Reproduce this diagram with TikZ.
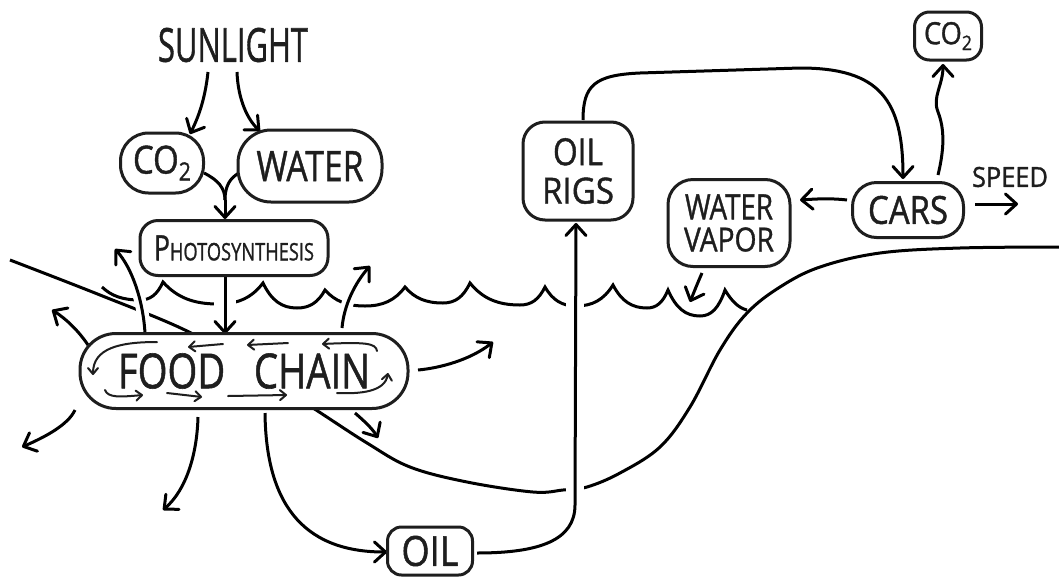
\documentclass[tikz,border=0pt]{standalone}
\usepackage{fontspec}
\setmainfont{Open Sans}[FakeBold=1.2]
\usepackage{graphicx}
\usetikzlibrary{arrows.meta,calc,backgrounds}
\definecolor{ink}{HTML}{1E1E1E}
\newcommand{\wdn}[4]{.. controls ({#1+0.25*(#3-#1)},{#2+0.7*(#4-#2)}) and ({#3-0.45*(#3-#1)},#4) .. (#3,#4)}
\newcommand{\wup}[4]{.. controls ({#1+0.45*(#3-#1)},#2) and ({#3-0.25*(#3-#1)},{#4+0.7*(#2-#4)}) .. (#3,#4)}
\tikzset{
  ln/.style={line width=3pt},
  arr/.style={line width=3pt, -{Straight Barb[length=11pt,width=20pt,round]}},
  tarr/.style={line width=2pt, -{Straight Barb[length=6pt,width=10pt,round]}},
  box/.style={draw, fill=white, line width=3pt, inner sep=0pt, align=center, font=\fontsize{10}{2}\selectfont},
  lbl/.style={inner sep=0pt},
  gap/.style={white, line width=12pt, line cap=butt}
}
\begin{document}
\begin{tikzpicture}[x=1pt,y=-1pt,color=ink,line cap=round,line join=round]
\useasboundingbox (0,0) rectangle (1059,576);
% nodes
\node[lbl] (sun) at (233,45) {\resizebox{150pt}{34pt}{SUNLIGHT}};
\node[box, rounded corners=28pt, minimum width=83pt, minimum height=60pt] (co2a) at (162,163)
  {\resizebox*{58pt}{35pt}{CO\raisebox{-0.18em}{\scalebox{0.65}{2}}}};
\node[box, rounded corners=33pt, minimum width=144pt, minimum height=72pt] (water) at (310,166)
  {\resizebox{107pt}{30pt}{WATER}};
\node[box, rounded corners=18pt, minimum width=188pt, minimum height=55pt] (photo) at (234,248)
  {\resizebox{160pt}{25pt}{{\fontsize{14.5}{14.5}\selectfont P}HOTOSYNTHESIS}};
\node[box, rounded corners=36pt, minimum width=328pt, minimum height=75pt] (food) at (244,371)
  {\resizebox{252pt}{35pt}{FOOD\hspace{0.75em}CHAIN}};
\node[box, rounded corners=14pt, minimum width=85pt, minimum height=48pt] (oil) at (430,551)
  {\resizebox{57pt}{30pt}{OIL}};
\node[box, rounded corners=22pt, minimum width=110pt, minimum height=98pt] (rigs) at (578,171)
  {\resizebox{50pt}{27pt}{OIL}\\[11pt]\resizebox{72pt}{26pt}{RIGS}};
\node[box, rounded corners=25pt, minimum width=122pt, minimum height=87pt] (vapor) at (729,223)
  {\resizebox{88pt}{25pt}{WATER}\\[7pt]\resizebox{90pt}{24pt}{VAPOR}};
\node[box, rounded corners=24pt, minimum width=111pt, minimum height=55pt] (cars) at (908,210)
  {\resizebox{80pt}{28pt}{CARS}};
\node[box, rounded corners=15pt, minimum width=67pt, minimum height=48pt] (co2b) at (948,36)
  {\resizebox*{48pt}{28pt}{CO\raisebox{-0.19em}{\scalebox{0.65}{2}}}};
\node[lbl] (speed) at (1010,177) {\resizebox{76pt}{20pt}{SPEED}};

\begin{scope}[on background layer]
\fill[white] (0,0) rectangle (1059,576);
% sea bed and land
\draw[ln] plot[smooth, tension=0.6] coordinates {(10,260) (100,295) (187,331) (250,368) (313,408) (367,443) (410,467) (467,482) (533,492) (563,490) (587,487) (620,473) (660,447) (690,407) (720,350) (747,313) (780,287) (820,267) (880,253) (960,248) (1059,247)};
% waves
\draw[ln] (102,287) \wdn{102}{287}{140}{300} \wup{140}{300}{163}{282} \wdn{163}{282}{218}{304} \wup{218}{304}{263}{283} \wdn{263}{283}{297}{308} \wup{297}{308}{325}{290} \wdn{325}{290}{365}{306} \wup{365}{306}{405}{287} \wdn{405}{287}{443}{303} \wup{443}{303}{470}{283} \wdn{470}{283}{520}{305} \wup{520}{305}{545}{287} \wdn{545}{287}{576}{306} \wup{576}{306}{613}{285} \wdn{613}{285}{647}{308} \wup{647}{308}{668}{290} \wdn{668}{290}{700}{316} \wup{700}{316}{725}{290} .. controls (731,300) and (738,308) .. (747,310);
% gaps where lines cross
\draw[gap, line width=22pt] (225,280) -- (225,325);
\draw[gap, line width=18pt] (575,278) -- (575,505);
% connectors
\draw[arr] ($(sun.center)+(-25,27)$) .. controls (205,100) and (198,118) .. ($(co2a.center)+(28,-29)$);
\draw[arr] ($(sun.center)+(4,27)$) .. controls (238,100) and (248,120) .. ($(water.center)+(-50,-35)$);
\coordinate (mg) at (225,200);
\draw[ln] ($(co2a.center)+(42,10)$) .. controls (218,180) and (225,188) .. (mg);
\draw[ln] ($(water.center)+(-71,7)$) .. controls (230,178) and (225,186) .. (mg);
\draw[arr] (mg) -- ($(photo.center)+(-9,-29)$);
\draw[arr] ($(photo.center)+(-9,28)$) -- ($(food.center)+(-19,-37)$);
% arrows out of the food chain
\coordinate (ul1) at (115,249);
\coordinate (ul2) at (52,310);
\coordinate (ll) at (22,447);
\coordinate (dn) at (163,510);
\coordinate (lr) at (378,438);
\coordinate (rt) at (493,342);
\coordinate (ur) at (370,266);
\draw[arr, preaction={draw=white, line width=12pt, arrows=-}] ($(food.center)+(-99,-38)$) .. controls (143,300) and (132,268) .. (ul1);
\draw[arr] ($(food.center)+(-156,-26)$) .. controls (78,330) and (65,318) .. (ul2);
\draw[arr] ($(food.center)+(-169,39)$) .. controls (68,425) and (45,437) .. (ll);
\draw[arr] ($(food.center)+(-46,46)$) .. controls (197,455) and (186,490) .. (dn);
\draw[arr] ($(food.center)+(21,42)$) .. controls (266,500) and (300,552) .. ($(oil.center)+(-43,1)$);
\draw[arr] ($(food.center)+(111,42)$) .. controls (363,420) and (372,428) .. (lr);
\draw[arr] ($(food.center)+(174,-1)$) .. controls (440,368) and (470,360) .. (rt);
\draw[arr, preaction={draw=white, line width=12pt, arrows=-}] ($(food.center)+(98,-43)$) .. controls (344,305) and (355,283) .. (ur);
% oil to rigs to cars
\draw[arr] ($(oil.center)+(47,2)$) .. controls (540,553) and (575,540) .. (575,505) -- ($(rigs.center)+(-2,52)$);
\draw[arr] ($(rigs.center)+(5,-51)$) .. controls (583,85) and (595,75) .. (640,73) -- (800,68) .. controls (880,68) and (903,100) .. ($(cars.center)+(-5,-31)$);
\draw[arr] ($(cars.center)+(30,-35)$) .. controls (944,150) and (945,130) .. (938,112) .. controls (932,97) and (943,85) .. ($(co2b.center)+(-5,28)$);
\draw[arr] ($(cars.center)+(-61,-10)$) .. controls (830,198) and (815,199) .. ($(vapor.center)+(71,-23)$);
\coordinate (sp) at (1018,204);
\draw[arr] ($(cars.center)+(67,-6)$) -- (sp);
\coordinate (wv) at (690,302);
\draw[arr] ($(vapor.center)+(-27,50)$) .. controls (698,282) and (694,292) .. (wv);
\end{scope}
% cycle arrows inside the food chain
\begin{scope}[shift={(food.center)}]
\draw[tarr] (-87,-29) .. controls (-124,-29) and (-151,-23) .. (-151,4);
\draw[tarr] (-21,-27) -- (-56,-24);
\draw[tarr] (44,-28) -- (3,-26);
\draw[tarr] (133,-20) .. controls (132,-28) and (121,-29) .. (78,-27);
\draw[tarr] (-139,19) .. controls (-136,27) and (-124,26) .. (-101,24);
\draw[tarr] (-77,22) -- (-42,26);
\draw[tarr] (-16,25) -- (43,24);
\draw[tarr] (93,22) .. controls (116,23) and (141,21) .. (144,2);
\end{scope}
\end{tikzpicture}
\end{document}
